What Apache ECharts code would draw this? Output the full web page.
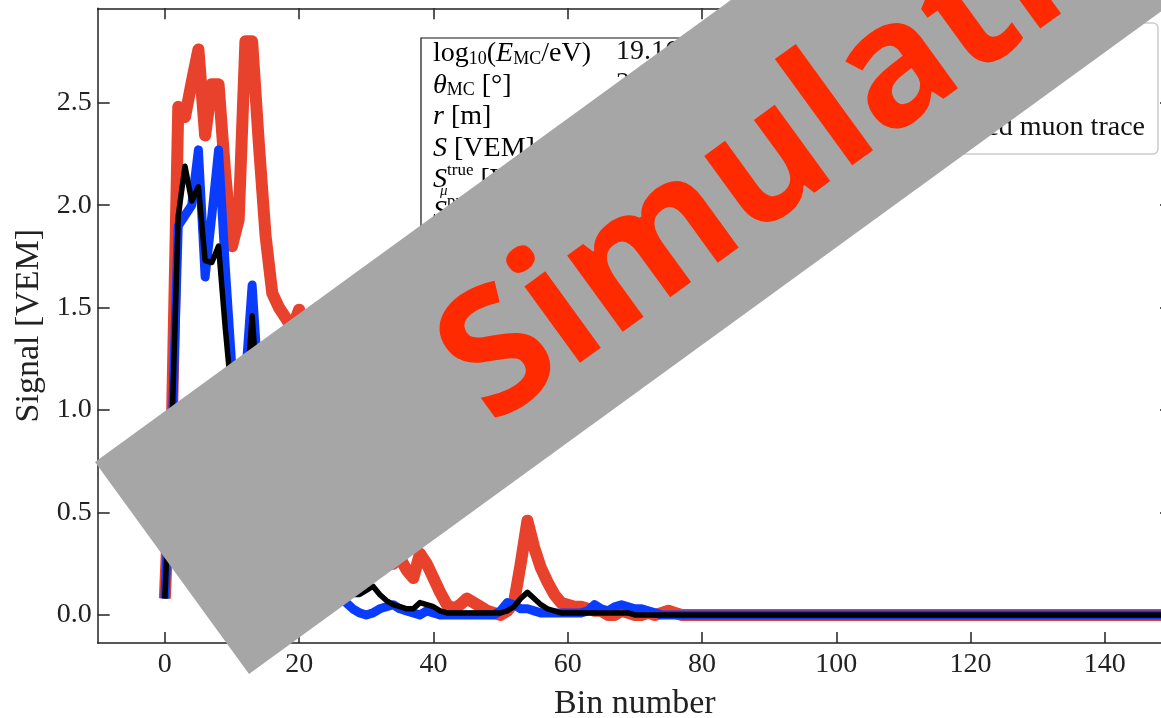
<!DOCTYPE html>
<html><head><meta charset="utf-8">
<script src="https://cdn.jsdelivr.net/npm/echarts@6/dist/echarts.min.js"></script>
<style>html,body{margin:0;padding:0;background:#fff}#c{width:1161px;height:718px}</style>
</head><body><div id="c"></div>
<script>
// ---- data (bin 0..149) ----
const totalTrace = [
0.08,0.85,2.48,2.43,2.60,2.76,2.34,2.59,2.59,2.15,
1.80,1.93,2.80,2.80,2.30,1.85,1.57,1.50,1.45,1.40,
1.49,1.30,1.15,1.05,0.95,0.85,0.75,0.65,0.55,0.50,
0.45,0.40,0.33,0.27,0.25,0.28,0.22,0.18,0.30,0.25,
0.18,0.11,0.05,0.03,0.05,0.08,0.06,0.04,0.02,0.01,
0.00,0.02,0.06,0.25,0.46,0.33,0.23,0.16,0.10,0.06,
0.05,0.04,0.04,0.03,0.02,0.02,0.00,0.00,0.02,0.01,
0.00,0.00,0.01,0.00,0.01,0.02,0.01,0.00,0.00,0.00,
0,0,0,0,0,0,0,0,0,0,
0,0,0,0,0,0,0,0,0,0,
0,0,0,0,0,0,0,0,0,0,
0,0,0,0,0,0,0,0,0,0,
0,0,0,0,0,0,0,0,0,0,
0,0,0,0,0,0,0,0,0,0,
0,0,0,0,0,0,0,0,0,0
];
const trueMuon = [
0.08,0.80,1.90,1.95,2.00,2.27,1.65,1.95,2.27,1.70,
1.20,0.90,1.15,1.61,1.10,0.80,0.60,0.50,0.42,0.36,
0.30,0.26,0.22,0.18,0.15,0.12,0.09,0.06,0.03,0.01,
0.00,0.01,0.03,0.04,0.05,0.03,0.02,0.01,0.00,0.02,
0.01,0.00,0.00,0.00,0.00,0.00,0.00,0.00,0.00,0.00,
0.02,0.06,0.05,0.03,0.03,0.02,0.01,0.01,0.01,0.01,
0.01,0.01,0.01,0.02,0.05,0.03,0.02,0.04,0.05,0.04,
0.03,0.03,0.02,0.01,0.00,0.00,0.00,0.00,0.00,0.00,
0,0,0,0,0,0,0,0,0,0,
0,0,0,0,0,0,0,0,0,0,
0,0,0,0,0,0,0,0,0,0,
0,0,0,0,0,0,0,0,0,0,
0,0,0,0,0,0,0,0,0,0,
0,0,0,0,0,0,0,0,0,0,
0,0,0,0,0,0,0,0,0,0
];
const predMuon = [
0.08,0.85,1.95,2.19,2.02,2.09,1.73,1.72,1.80,1.40,
1.05,0.85,1.00,1.46,1.00,0.75,0.60,0.50,0.42,0.36,
0.30,0.26,0.22,0.20,0.18,0.16,0.14,0.12,0.10,0.10,
0.12,0.14,0.10,0.07,0.05,0.04,0.03,0.03,0.06,0.05,
0.04,0.02,0.01,0.01,0.01,0.01,0.01,0.01,0.01,0.01,
0.01,0.02,0.04,0.08,0.11,0.08,0.05,0.03,0.02,0.01,
0.01,0.01,0.01,0.01,0.01,0.01,0.01,0.01,0.01,0.01,
0.00,0.00,0.00,0.00,0.00,0.00,0.00,0.00,0.00,0.00,
0,0,0,0,0,0,0,0,0,0,
0,0,0,0,0,0,0,0,0,0,
0,0,0,0,0,0,0,0,0,0,
0,0,0,0,0,0,0,0,0,0,
0,0,0,0,0,0,0,0,0,0,
0,0,0,0,0,0,0,0,0,0,
0,0,0,0,0,0,0,0,0,0
];
const seriesNames = ['Total trace', 'True muon trace', 'Reconstructed muon trace'];
const xTicks = [0, 20, 40, 60, 80, 100, 120, 140];
const yTicks = [0, 0.5, 1.0, 1.5, 2.0, 2.5];
const paramLabels = [
  '{a|log}{s|10}{a|(}{i|E}{s|MC}{a|/eV)}',
  '{i|θ}{s|MC}{a| [°]}',
  '{i|r}{a| [m]}',
  '{i|S}{a| [VEM]}',
  '{i|S}{sup|true}{a| [VEM]}',
  '{i|S}{sup|pred}{a| [VEM]}'
];
const paramValues = ['19.16', '27.6'];

// ---- chart ----
const serif = '"Liberation Serif", "Times New Roman", serif';
const chart = echarts.init(document.getElementById('c'));
const toPairs = arr => arr.map((v, i) => [i, v]);

function xAx(pos, show) {
  return {
    type: 'value', position: pos, min: -10, max: 150,
    axisLine: {show: true, onZero: false, lineStyle: {color: '#222', width: 1.5}},
    axisTick: {show: true, inside: true, length: 11, customValues: xTicks, lineStyle: {color: '#222', width: 1.5}},
    axisLabel: {show: show, customValues: xTicks, margin: 8, fontFamily: serif, fontSize: 28, color: '#222'},
    splitLine: {show: false},
    name: show ? 'Bin number' : '', nameLocation: 'middle', nameGap: 44,
    nameTextStyle: {fontFamily: serif, fontSize: 34, color: '#222'}
  };
}
function yAx(pos, show) {
  return {
    type: 'value', position: pos, min: -0.137, max: 2.961,
    axisLine: {show: true, onZero: false, lineStyle: {color: '#222', width: 1.5}},
    axisTick: {show: true, inside: true, length: 12, customValues: yTicks, lineStyle: {color: '#222', width: 1.5}},
    axisLabel: {show: show, customValues: yTicks, margin: 6, fontFamily: serif, fontSize: 28, color: '#222',
      formatter: v => Number(v).toFixed(1)},
    splitLine: {show: false},
    name: show ? 'Signal [VEM]' : '', nameLocation: 'middle', nameGap: 50, nameRotate: 90,
    nameTextStyle: {fontFamily: serif, fontSize: 34, color: '#222'}
  };
}

const ang = 36 * Math.PI / 180;
const dir = [Math.cos(ang), -Math.sin(ang)];
const A = [95, 462], B = [249, 674], L = 1500;
const bannerPts = [A, B, [B[0] + L * dir[0], B[1] + L * dir[1]], [A[0] + L * dir[0], A[1] + L * dir[1]]];

const rich = {
  a: {fontFamily: serif, fontSize: 28, lineHeight: 32, color: '#111', verticalAlign: 'bottom'},
  i: {fontFamily: serif, fontSize: 28, lineHeight: 32, color: '#111', fontStyle: 'italic', verticalAlign: 'bottom'},
  s: {fontFamily: serif, fontSize: 18, lineHeight: 18, color: '#111', verticalAlign: 'bottom'},
  sup: {fontFamily: serif, fontSize: 17, lineHeight: 17, color: '#111', verticalAlign: 'top'}
};
const rowY0 = 52, rowDy = 31.5;
const graphics = [
  {type: 'rect', shape: {x: 421, y: 38, width: 330, height: 230}, style: {fill: '#fff', stroke: '#111', lineWidth: 1.2}, z: 5}
];
paramLabels.forEach((t, k) => {
  graphics.push({type: 'text', x: 433, y: rowY0 + k * rowDy, z: 6,
    style: {text: t, rich: rich, align: 'left', verticalAlign: 'middle'}});
});
paramValues.forEach((t, k) => {
  graphics.push({type: 'text', x: 616, y: rowY0 + k * rowDy, z: 6,
    style: {text: t, fontFamily: serif, fontSize: 28, fill: '#111', align: 'left', verticalAlign: 'middle'}});
});
graphics.push({type: 'text', x: 440, y: rowY0 + 4 * rowDy + 13, z: 6,
  style: {text: 'μ', fontFamily: serif, fontSize: 15, fontStyle: 'italic', fill: '#111', align: 'left', verticalAlign: 'middle'}});
graphics.push({type: 'polygon', shape: {points: bannerPts}, style: {fill: '#a6a6a6'}, z: 100});
graphics.push({type: 'text', x: 463, y: 387, rotation: ang, z: 101,
  style: {text: 'Simulation', fill: '#ff2a00', fontFamily: '"Open Sans", "DejaVu Sans", sans-serif',
    fontWeight: 'bold', fontSize: 173, align: 'left', verticalAlign: 'middle'}});

chart.setOption({
  animation: false,
  backgroundColor: '#fff',
  grid: {left: 97.7, right: -11, top: 8.3, bottom: 75, containLabel: false, outerBoundsMode: 'none'},
  xAxis: [xAx('bottom', true), xAx('top', false)],
  yAxis: [yAx('left', true), yAx('right', false)],
  legend: {
    orient: 'vertical', right: 3, top: 23, padding: [21, 13, 12, 14], itemGap: 7,
    itemWidth: 56, itemHeight: 14, backgroundColor: '#fff', borderColor: '#cccccc', borderWidth: 1.5,
    borderRadius: 5, textStyle: {fontFamily: serif, fontSize: 28, lineHeight: 28, color: '#111', padding: [0, 0, 0, 16]},
    data: seriesNames, z: 6
  },
  series: [
    {name: seriesNames[0], type: 'line', data: toPairs(totalTrace), symbol: 'none', z: 2,
      lineStyle: {color: '#e8412c', width: 12, join: 'round'}, itemStyle: {color: '#e8412c'}},
    {name: seriesNames[1], type: 'line', data: toPairs(trueMuon), symbol: 'none', z: 3,
      lineStyle: {color: '#0a3cff', width: 9, join: 'round'}, itemStyle: {color: '#0a3cff'}},
    {name: seriesNames[2], type: 'line', data: toPairs(predMuon), symbol: 'none', z: 4,
      lineStyle: {color: '#000000', width: 5.5, join: 'round'}, itemStyle: {color: '#000000'}}
  ],
  graphic: graphics
});
</script></body></html>
